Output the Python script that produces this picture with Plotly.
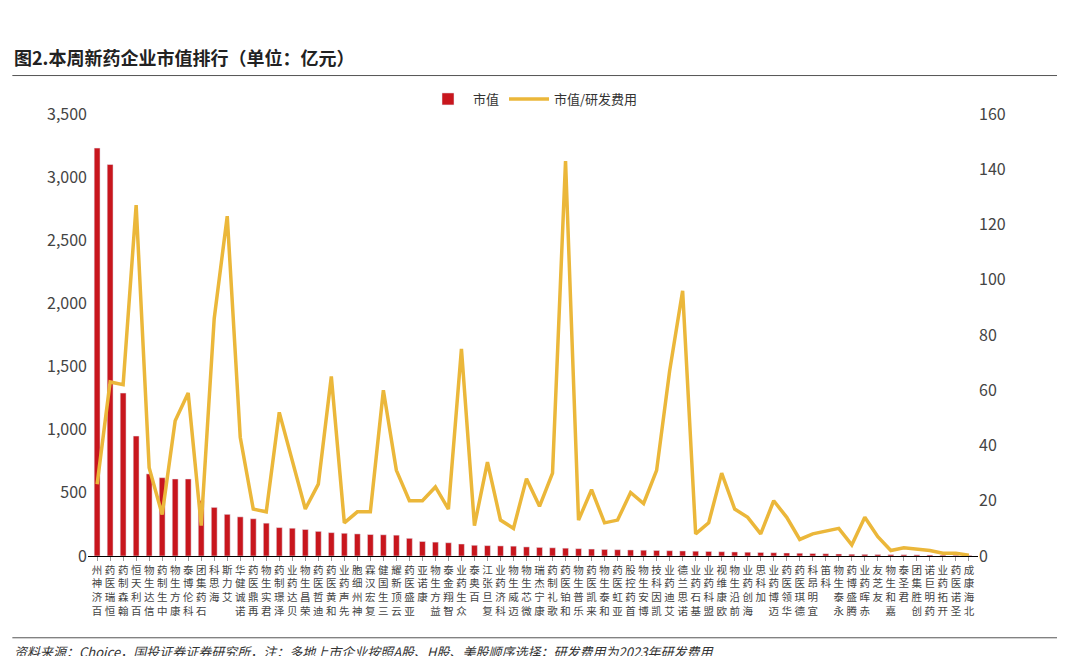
import plotly.graph_objects as go

companies = ["百济神州","恒瑞医药","翰森制药","百利天恒","信达生物","中生制药","康方生物","科伦博泰","石药集团","海思科",
"艾力斯","诺诚健华","再鼎医药","君实生物","泽璟制药","贝达药业","荣昌生物","迪哲医药","和黄医药","先声药业",
"神州细胞","复宏汉霖","三生国健","云顶新耀","亚盛医药","康诺亚","益方生物","智翔金泰","众生药业","百奥泰",
"复旦张江","科济药业","迈威生物","微芯生物","康宁杰瑞","歌礼制药","和铂医药","乐普生物","来凯医药","和泰生物",
"亚虹医药","首药控股","博安生物","凯因科技","艾迪药业","诺思兰德","基石药业","盟科药业","欧康维视","前沿生物",
"海创药业","加科思","迈博药业","华领医药","德琪医药","宜明昂科","科笛","永泰生物","腾盛博药","赤晖药业",
"友芝友","嘉和生物","君圣泰","创胜集团","药明巨诺","开拓药业","圣诺医药","北海康成"]
market_cap = [3230,3100,1290,950,650,620,610,610,440,385,
330,310,295,260,225,220,210,195,185,180,
175,170,168,165,140,115,110,105,95,85,
82,80,78,72,68,65,62,58,55,52,
50,48,46,44,42,40,38,36,34,32,
30,28,26,24,22,20,18,16,14,13,
12,11,10,9,8,7,6,5]
cap_rd = [26,63,62,127,32,15,49,59,11,86,
123,43,17,16,52,34,17,26,65,12,
16,16,60,31,20,20,25,17,75,11,
34,13,10,28,18,30,143,13,24,12,
13,23,19,31,67,96,8,12,30,17,
14,8,20,14,6,8,9,10,4,14,
7,2,3,2.5,2,1,1,0.3]

def stack(name):
    chars = list(reversed(name))
    chars += ["\u3000"] * (4 - len(chars))
    return "<br>".join(chars)

ticktext = [stack(c) for c in companies]
F = "Noto Sans CJK SC"
fig = go.Figure()
fig.add_bar(x=companies, y=market_cap, name="市值", marker_color="#C8161D", width=0.45, yaxis="y")
fig.add_scatter(x=companies, y=cap_rd, name="市值/研发费用", mode="lines",
                line=dict(color="#EBB73A", width=3.5), yaxis="y2")
fig.update_layout(
    width=1065, height=656, paper_bgcolor="white", plot_bgcolor="white",
    margin=dict(l=80, r=95, t=106, b=108, autoexpand=False),
    font=dict(family=F, color="#333"),
    showlegend=True,
    legend=dict(orientation="h", x=0.5, xanchor="center", y=1.0, yanchor="bottom",
                font=dict(size=13, color="#333"), itemwidth=40),
    xaxis=dict(tickvals=companies, ticktext=ticktext, tickfont=dict(size=10.5, color="#444"),
               showline=True, linecolor="#000", ticks="outside", ticklen=4, tickcolor="#999",
               range=[-0.7, 67.7], automargin=False),
    yaxis=dict(range=[0, 3500], dtick=500, tickformat=",", showgrid=False, automargin=False,
               tickfont=dict(size=16, color="#444"), zeroline=False),
    yaxis2=dict(range=[0, 160], dtick=20, overlaying="y", side="right", showgrid=False,
                automargin=False, tickfont=dict(size=16, color="#444"), zeroline=False),
)
fig.add_annotation(text="<b>图2.本周新药企业市值排行（单位：亿元）</b>", xref="paper", yref="paper",
                   x=-0.085, y=1.095, xanchor="left", yanchor="bottom", showarrow=False,
                   font=dict(size=18, color="#222"))
fig.add_annotation(text="<i>资料来源：Choice，国投证券证券研究所，注：多地上市企业按照A股、H股、美股顺序选择；研发费用为2023年研发费用</i>",
                   xref="paper", yref="paper", x=-0.085, y=-0.19, xanchor="left", yanchor="top",
                   showarrow=False, font=dict(size=13, color="#333"))
fig.add_shape(type="line", xref="paper", yref="paper", x0=-0.085, x1=1.11, y0=1.087, y1=1.087,
              line=dict(color="#555", width=1))
fig.add_shape(type="line", xref="paper", yref="paper", x0=-0.085, x1=1.11, y0=-0.185, y1=-0.185,
              line=dict(color="#555", width=1))
fig.write_html("out.html")
